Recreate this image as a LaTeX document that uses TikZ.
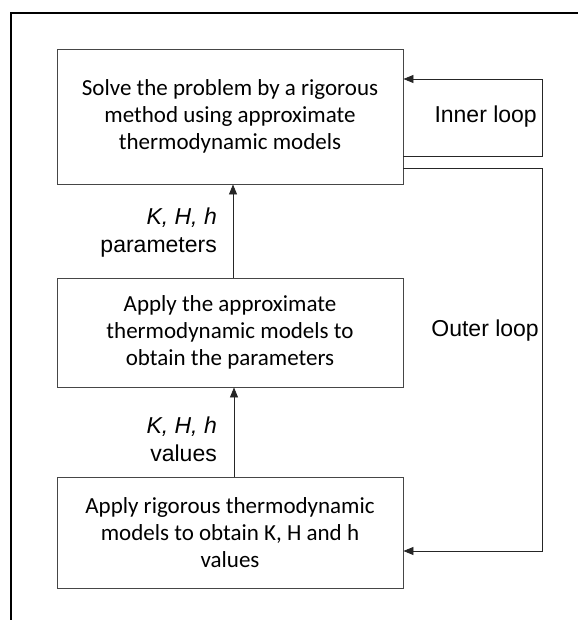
\documentclass[tikz,border=0pt]{standalone}
\usepackage{fontspec}
\usetikzlibrary{arrows.meta}
\newfontfamily\boxfont{Carlito}
\newfontfamily\lblfont{Liberation Sans}
\definecolor{edgegray}{RGB}{70,70,70}
\begin{document}
\begin{tikzpicture}[x=1pt,y=-1pt,
  stepbox/.style={draw=edgegray, line width=0.9pt, rectangle, align=center,
    inner sep=0pt, font=\boxfont\fontsize{23}{27}\selectfont},
  lbl/.style={inner sep=0pt, align=right, anchor=east,
    font=\lblfont\fontsize{23}{28}\selectfont},
  arr/.style={draw=black!85, line width=0.8pt,
    -{Triangle[length=10pt,width=8pt]}},
  frame/.style={draw=black, line width=1.8pt}]
  \useasboundingbox (0,0) rectangle (578,620);

  % page frame (left and top rule)
  \coordinate (fbl) at (11,620);
  \coordinate (ftl) at (11,13);
  \coordinate (ftr) at (578,13);
  \draw[frame] (fbl) -- (ftl) -- (ftr);

  % process boxes
  \node[stepbox, minimum width=346pt, minimum height=135pt] (solve) at (230,116.5)
    {Solve the problem by a rigorous\\method using approximate\\thermodynamic models};
  \node[stepbox, minimum width=346pt, minimum height=109pt] (approx) at (230,332.5)
    {Apply the approximate\\thermodynamic models to\\obtain the parameters};
  \node[stepbox, minimum width=346pt, minimum height=111pt] (rig) at (230,532.5)
    {Apply rigorous thermodynamic\\models to obtain K, H and h\\values};

  % upward flow
  \draw[arr] ([xshift=3pt]approx.north) -- ([xshift=3pt]solve.south);
  \draw[arr] ([xshift=4pt]rig.north) -- ([xshift=4pt]approx.south);

  \node[lbl] (lpar) at (217,232.5) {\itshape K, H, h\\parameters};
  \node[lbl] (lval) at (217,439.5) {\itshape K, H, h\\values};

  % inner loop
  \coordinate (itop) at (542,79);
  \coordinate (ibot) at (542,156);
  \draw[arr] (solve.east |- ibot) -- (ibot) -- (itop) -- (solve.east |- itop);
  \node[lbl] (linner) at (537,117) {Inner loop};

  % outer loop
  \coordinate (otop) at (542,168);
  \coordinate (obot) at (542,551);
  \draw[arr] (solve.east |- otop) -- (otop) -- (obot) -- (rig.east |- obot);
  \node[lbl] (louter) at (539,331) {Outer loop};
\end{tikzpicture}
\end{document}
